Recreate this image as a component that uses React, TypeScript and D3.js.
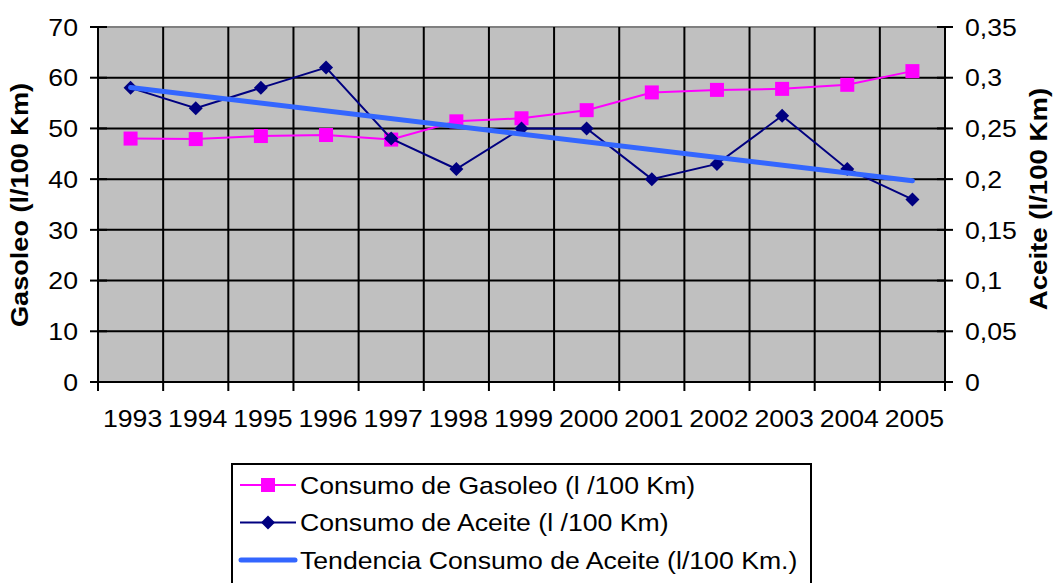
import React from 'react';
import * as d3 from 'd3';

// chart data
const years = ['1993', '1994', '1995', '1996', '1997', '1998', '1999', '2000', '2001', '2002', '2003', '2004', '2005'];
const gasoleo = [48, 47.9, 48.5, 48.7, 47.8, 51.4, 52.0, 53.6, 57.1, 57.6, 57.8, 58.6, 61.3];
const aceite = [0.29, 0.27, 0.29, 0.31, 0.24, 0.21, 0.25, 0.25, 0.2, 0.215, 0.2625, 0.21, 0.18];
const leftTicks = [0, 10, 20, 30, 40, 50, 60, 70];
const rightTicks = [0, 0.05, 0.1, 0.15, 0.2, 0.25, 0.3, 0.35];
const legendLabels = [
    'Consumo de Gasoleo (l /100 Km)',
    'Consumo de Aceite (l /100 Km)',
    'Tendencia Consumo de Aceite (l/100 Km.)',
];

const FONT = '"Liberation Sans", Arial, sans-serif';
const MAGENTA = '#ff00ff';
const NAVY = '#000080';
const TREND = '#3366ff';
const SX = 1.11; // the original text is a little stretched along its length

// linear least squares, like Excel's trendline
function linearFit(ys: number[]) {
    const n = ys.length;
    const mx = (n - 1) / 2;
    const my = d3.mean(ys) as number;
    let sxy = 0, sxx = 0;
    ys.forEach((y, i) => { sxy += (i - mx) * (y - my); sxx += (i - mx) * (i - mx); });
    const slope = sxy / sxx;
    return (i: number) => my + slope * (i - mx);
}

export default function App() {
    const width = 1055;
    const height = 583;
    const left = 98, right = 945, top = 27, bottom = 382;

    const x = d3.scaleBand().domain(years).range([left, right]);
    const yL = d3.scaleLinear().domain([0, 70]).range([bottom, top]);
    const yR = d3.scaleLinear().domain([0, 0.35]).range([bottom, top]);
    const cx = (i: number) => (x(years[i]) as number) + x.bandwidth() / 2;

    const gasLine = d3.line<number>().x((d, i) => cx(i)).y(d => yL(d))(gasoleo) as string;
    const aceLine = d3.line<number>().x((d, i) => cx(i)).y(d => yR(d))(aceite) as string;
    const fit = linearFit(aceite);
    const trend = [fit(0), fit(years.length - 1)];
    const fmt = (v: number) => String(v).replace('.', ',');
    const at = (tx: number, ty: number) => `translate(${tx},${ty}) scale(${SX},1)`;

    const boundaries = years.map(y => x(y) as number).concat([right]);
    const legX = 232, legY = 464;

    return (
        <svg width={width} height={height} style={{ position: 'absolute', left: 0, top: 0, background: '#fff' }}
            fontFamily={FONT}>
            {/* plot area */}
            <rect x={left} y={top} width={right - left} height={bottom - top} fill="#c0c0c0" />
            <line x1={left} x2={right} y1={top} y2={top} stroke="#808080" strokeWidth={2} />
            {/* horizontal gridlines */}
            {leftTicks.slice(1, -1).map(t => (
                <line key={'h' + t} x1={left} x2={right} y1={yL(t)} y2={yL(t)} stroke="#000" strokeWidth={2} />
            ))}
            {/* vertical gridlines */}
            {boundaries.slice(1, -1).map((b, i) => (
                <line key={'v' + i} x1={b} x2={b} y1={top} y2={bottom} stroke="#000" strokeWidth={2} />
            ))}
            {/* axes */}
            <line x1={left} x2={left} y1={top} y2={bottom + 1} stroke="#000" strokeWidth={2} />
            <line x1={right} x2={right} y1={top} y2={bottom + 1} stroke="#000" strokeWidth={2} />
            <line x1={left} x2={right} y1={bottom} y2={bottom} stroke="#000" strokeWidth={2} />
            {leftTicks.map(t => (
                <g key={'lt' + t}>
                    <line x1={left - 8} x2={left + 9} y1={yL(t)} y2={yL(t)} stroke="#000" strokeWidth={2} />
                    <text transform={at(78, yL(t))} dy="0.36em" textAnchor="end" fontSize={24}>{t}</text>
                </g>
            ))}
            {rightTicks.map(t => (
                <g key={'rt' + t}>
                    <line x1={right - 8} x2={right + 8} y1={yR(t)} y2={yR(t)} stroke="#000" strokeWidth={2} />
                    <text transform={at(965, yR(t))} dy="0.36em" textAnchor="start" fontSize={24}>{fmt(t)}</text>
                </g>
            ))}
            {boundaries.map((b, i) => (
                <line key={'bt' + i} x1={b} x2={b} y1={bottom} y2={bottom + 9} stroke="#000" strokeWidth={2} />
            ))}
            {years.map((yr, i) => (
                <text key={yr} transform={at(cx(i) + 2, 427)} textAnchor="middle" fontSize={24}>{yr}</text>
            ))}
            {/* axis titles */}
            <text transform="translate(28,205) rotate(-90) scale(1.13,1)" textAnchor="middle" fontSize={24} fontWeight="bold">
                Gasoleo (l/100 Km)
            </text>
            <text transform="translate(1047,199) rotate(-90) scale(1.15,1)" textAnchor="middle" fontSize={24} fontWeight="bold">
                Aceite (l/100 Km)
            </text>
            {/* series */}
            <path d={gasLine} fill="none" stroke={MAGENTA} strokeWidth={2} />
            {gasoleo.map((v, i) => (
                <rect key={'g' + i} x={cx(i) - 7} y={yL(v) - 7} width={14} height={14} fill={MAGENTA} />
            ))}
            <path d={aceLine} fill="none" stroke={NAVY} strokeWidth={2} />
            {aceite.map((v, i) => (
                <path key={'a' + i} d={`M${cx(i)},${yR(v) - 7}L${cx(i) + 7},${yR(v)}L${cx(i)},${yR(v) + 7}L${cx(i) - 7},${yR(v)}Z`} fill={NAVY} />
            ))}
            <line x1={cx(0)} x2={cx(years.length - 1)} y1={yR(trend[0])} y2={yR(trend[1])} stroke={TREND} strokeWidth={5} strokeLinecap="round" />
            {/* legend */}
            <rect x={legX} y={legY} width={579} height={130} fill="#fff" stroke="#000" strokeWidth={2} />
            {legendLabels.map((lab, i) => {
                const yy = 485 + i * 37.5;
                return (
                    <g key={lab}>
                        {i === 0 && <>
                            <line x1={240} x2={296} y1={yy} y2={yy} stroke={MAGENTA} strokeWidth={2} />
                            <rect x={261} y={yy - 7} width={14} height={14} fill={MAGENTA} />
                        </>}
                        {i === 1 && <>
                            <line x1={240} x2={296} y1={yy} y2={yy} stroke={NAVY} strokeWidth={2} />
                            <path d={`M268,${yy - 7}L275,${yy}L268,${yy + 7}L261,${yy}Z`} fill={NAVY} />
                        </>}
                        {i === 2 && <line x1={241} x2={295} y1={yy} y2={yy} stroke={TREND} strokeWidth={5} strokeLinecap="round" />}
                        <text transform={at(300, yy)} dy="0.36em" fontSize={24}>{lab}</text>
                    </g>
                );
            })}
        </svg>
    );
}
